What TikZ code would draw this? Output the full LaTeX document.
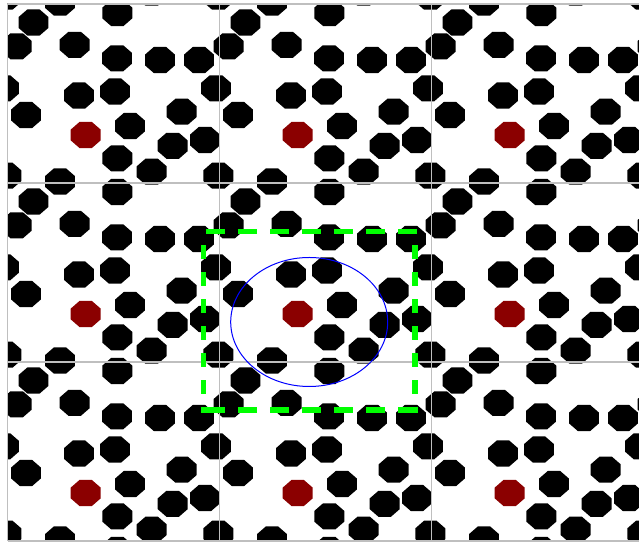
\documentclass[tikz,border=0pt]{standalone}
\usepackage{tikz}

\definecolor{tagred}{RGB}{139,0,0}
\definecolor{boxgreen}{RGB}{0,255,0}

\newcommand{\grain}[3]{%
  \fill[#3] plot[samples at={22.5,67.5,...,337.5}] ({(#1)+16.2*cos(\x)},{(#2)+14.1*sin(\x)}) -- cycle;}

\begin{document}
\begin{tikzpicture}[
  x=0.5pt, y=-0.5pt,
  disk/.style={black},
  tagged/.style={tagred},
  cellline/.style={draw=black!25, line width=0.75pt},
  window/.style={draw=boxgreen, line width=2.6pt, line cap=rect},
  windowh/.style={window, dash pattern=on 6.75pt off 9.25pt, dash phase=13.4pt},
  windowv/.style={window, dash pattern=on 4.5pt off 9pt, dash phase=5.4pt},
  cutoff/.style={draw=blue, line width=0.5pt}
]
\useasboundingbox (0,0) rectangle (639,544);

\begin{scope}
  \clip (7.5,4) rectangle (639,541);
  \foreach \i in {-1,...,3}
    \foreach \j in {-1,...,3} {
      \foreach \px/\py in {26/18.5, 67.2/40.8, 109.8/9, 109.5/54.3, 152.5/56, 191.5/56,
                           208.5/84.3, 71.5/91.5, 107.5/87.5, 174.2/107.7, 18.5/111,
                           122.5/122, 165.2/141.8, 197.5/136, 109.8/154.3, 144.2/167.7,
                           52.5/177.5, 210.8/171.7, 9.2/42.3}
        \grain{7.5+212*(\i)+\px}{4+179*(\j)+\py}{disk};
      \grain{7.5+212*(\i)+78.2}{4+179*(\j)+131}{tagged};
    }
\end{scope}

\foreach \gx in {7.5,219.5,431.5}
  \draw[cellline] (\gx,4) -- (\gx,541);
\foreach \gy in {4,183,362,541}
  \draw[cellline] (7.5,\gy) -- (639,\gy);

\coordinate (centre) at (309.2,322);
\coordinate (tl) at (203.3,231.3);
\coordinate (tr) at (415,231.3);
\coordinate (bl) at (203.3,410);
\coordinate (br) at (415,410);
\draw[cutoff] (centre) ellipse [x radius=78.5, y radius=64.5];
\draw[windowh] (tl) -- (tr) (bl) -- (br);
\draw[windowv] (tl) -- (bl) (tr) -- (br);
\end{tikzpicture}
\end{document}
